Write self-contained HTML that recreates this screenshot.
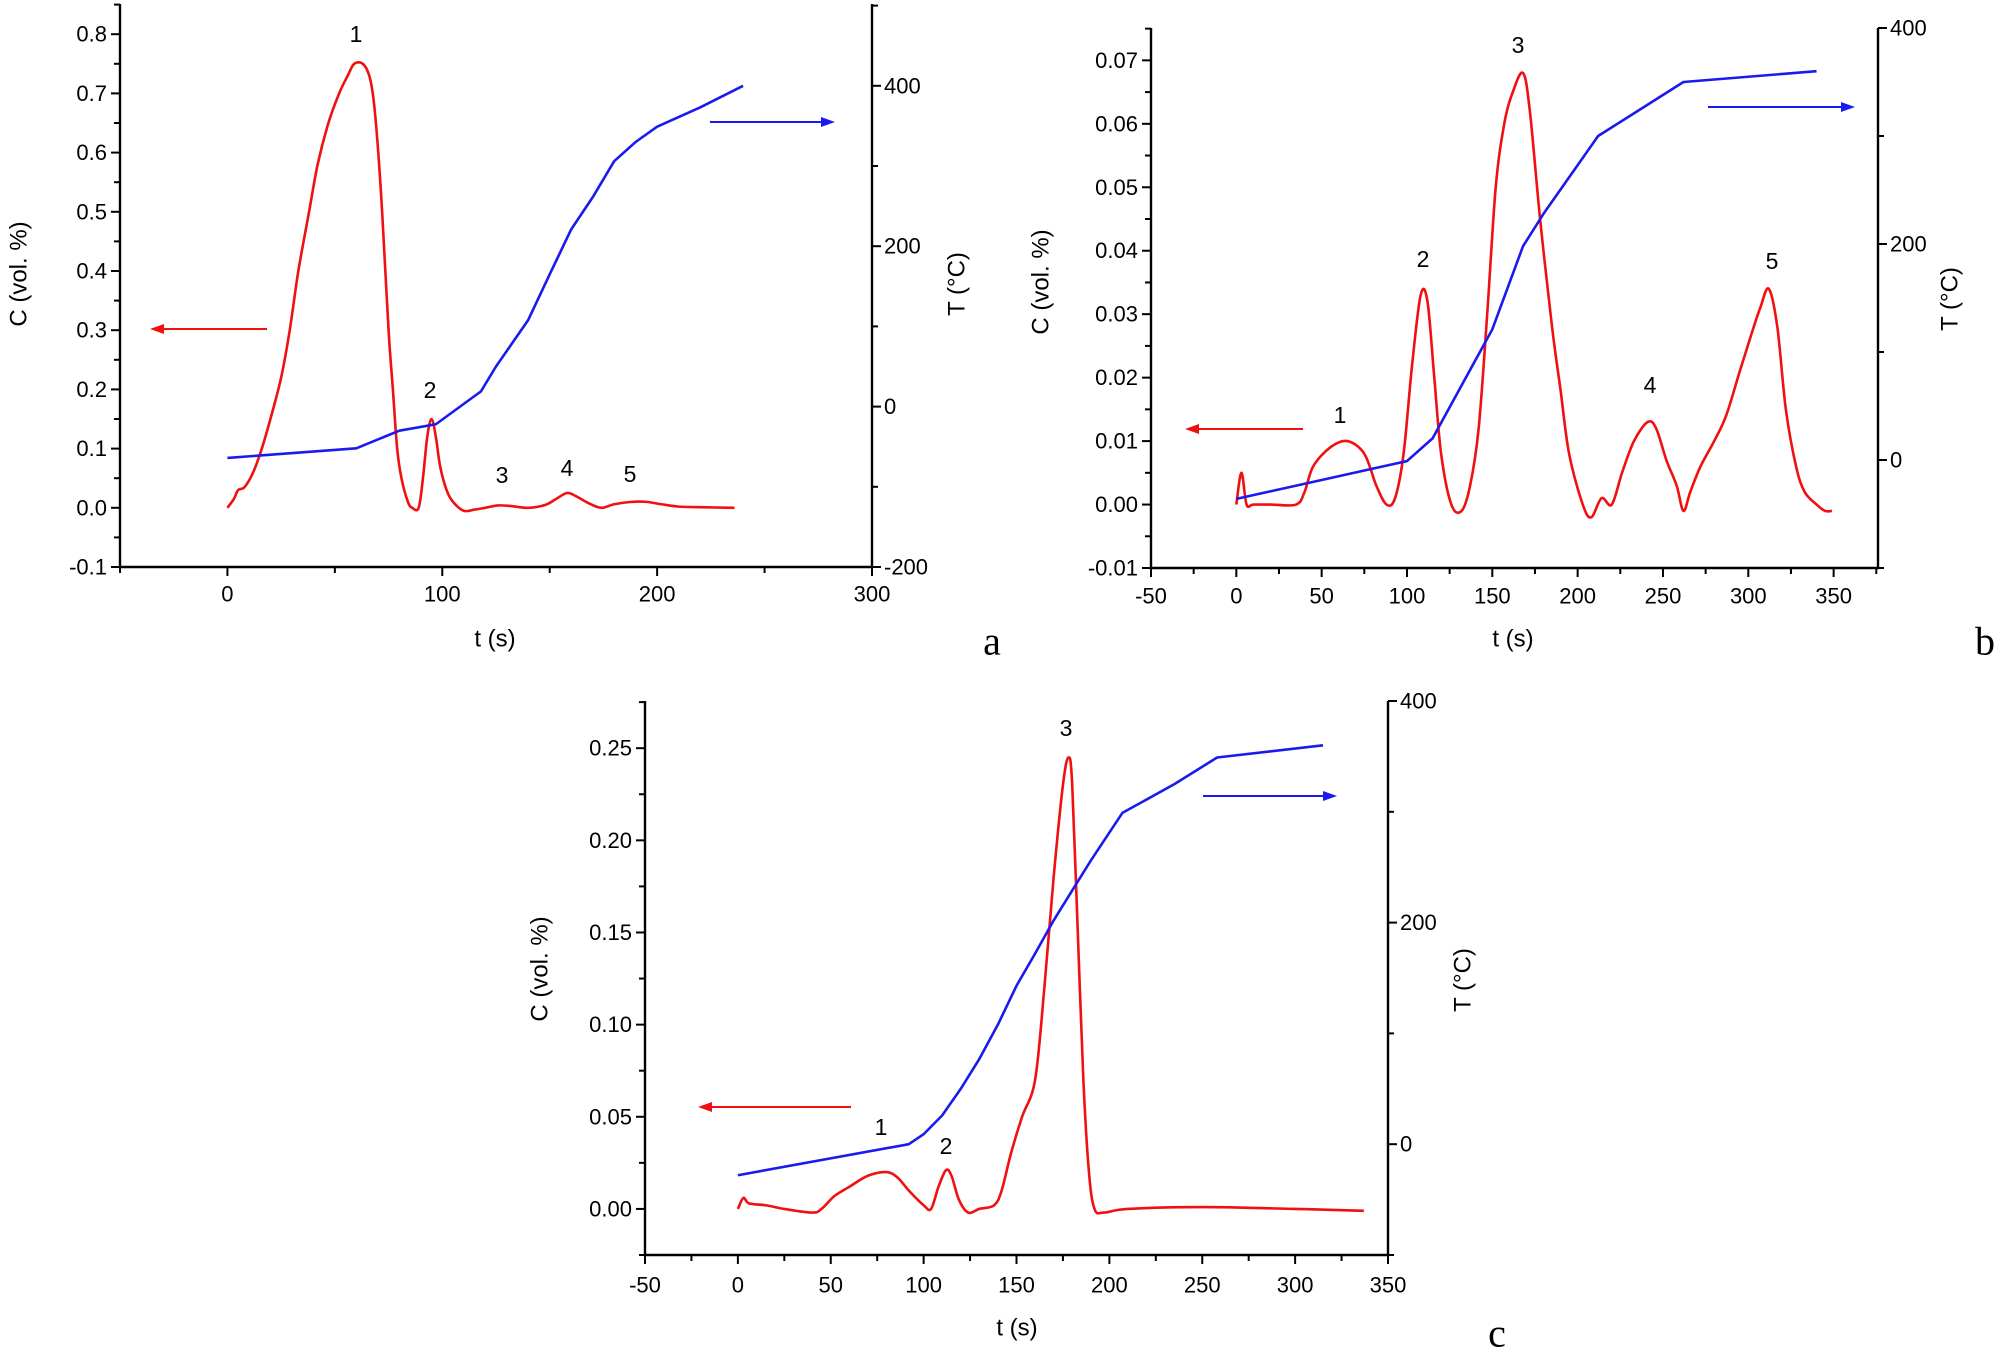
<!DOCTYPE html>
<html><head><meta charset="utf-8"><style>
body{margin:0;background:#fff}
svg{display:block}
text{font-family:"Liberation Sans",Arial,sans-serif;fill:#000}
</style></head><body>
<svg id="fig" width="2000" height="1349" viewBox="0 0 2000 1349" xmlns="http://www.w3.org/2000/svg"></svg>
<script>
// ---------- Panel a data ----------
const aConcT = [0,3,5,8,12,16,20,25,29,33,38,42,47,52,56,59,63,66,68,70,72,75,77,79,81,84,86,89,91,93,95,97,99,102,105,110,115,120,126,132,140,148,153,158,162,168,174,180,188,195,202,210,220,236];
const aConcC = [0,0.015,0.03,0.035,0.06,0.1,0.15,0.22,0.3,0.4,0.5,0.58,0.65,0.7,0.73,0.75,0.75,0.73,0.69,0.61,0.5,0.3,0.2,0.1,0.05,0.01,0,0,0.05,0.12,0.15,0.12,0.07,0.03,0.01,-0.005,-0.003,0,0.004,0.003,0,0.005,0.015,0.025,0.02,0.008,0,0.006,0.01,0.01,0.006,0.002,0.001,0];
const aTempT = [0,60,80,97,118,125,140,150,160,170,180,190,200,220,240];
const aTempV = [-64,-52,-30,-22,19,50,108,165,221,261,306,330,349,373,400];
const aXTicks = [0,100,200,300];
const aYTicks = [-0.1,0,0.1,0.2,0.3,0.4,0.5,0.6,0.7,0.8];
const aRTicks = [-200,0,200,400];
// ---------- Panel b data ----------
const bConcT = [0,3,6,10,20,35,40,45,55,65,75,82,88,93,98,103,108,112,116,120,126,132,137,142,147,152,157,162,168,172,178,185,190,195,203,208,214,220,226,233,241,246,252,258,262,266,272,280,287,295,302,307,312,317,322,328,333,340,345,349];
const bConcC = [0,0.005,0,0,0,0,0.002,0.006,0.009,0.01,0.008,0.003,0,0.001,0.008,0.022,0.033,0.032,0.02,0.008,0,-0.001,0.003,0.012,0.03,0.05,0.06,0.065,0.068,0.062,0.045,0.028,0.018,0.008,0,-0.002,0.001,0,0.005,0.01,0.013,0.012,0.007,0.003,-0.001,0.002,0.006,0.01,0.014,0.021,0.027,0.031,0.034,0.028,0.015,0.006,0.002,0,-0.001,-0.001];
const bTempT = [0,100,115,150,168,180,212,262,340];
const bTempV = [-36,-1,20,121,198,228,300,350,360];
const bXTicks = [-50,0,50,100,150,200,250,300,350];
const bYTicks = [-0.01,0,0.01,0.02,0.03,0.04,0.05,0.06,0.07];
const bRTicks = [0,200,400];
// ---------- Panel c data ----------
const cConcT = [0,3,6,15,25,40,45,52,60,70,80,86,92,100,104,108,112,115,119,124,130,138,142,147,153,160,165,170,175,178,180,183,186,189,192,197,210,250,300,337];
const cConcC = [0,0.006,0.003,0.002,0,-0.002,0,0.007,0.012,0.018,0.02,0.017,0.01,0.002,0,0.012,0.021,0.018,0.005,-0.002,0,0.002,0.01,0.03,0.05,0.07,0.12,0.18,0.23,0.245,0.23,0.15,0.07,0.02,0,-0.002,0,0.001,0,-0.001];
const cTempT = [0,92,100,110,120,130,140,150,160,170,180,190,207,235,258,315];
const cTempV = [-28,0,9,26,50,77,108,143,172,202,229,256,299,325,349,360];
const cXTicks = [-50,0,50,100,150,200,250,300,350];
const cYTicks = [0,0.05,0.1,0.15,0.2,0.25];
const cRTicks = [0,200,400];

const NS="http://www.w3.org/2000/svg";
const svg=document.getElementById('fig');
function mk(tag,attrs,parent){const e=document.createElementNS(NS,tag);for(const k in attrs)e.setAttribute(k,attrs[k]);(parent||svg).appendChild(e);return e;}
function txt(s,x,y,size,anchor,parent,rot,family){
  const t=mk('text',{x:x,y:y,'font-size':size,'text-anchor':anchor||'middle','dominant-baseline':'central'},parent);
  if(rot)t.setAttribute('transform','rotate('+rot+' '+x+' '+y+')');
  if(family)t.setAttribute('style','font-family:'+family);
  t.textContent=s;return t;
}
function smooth(pts){
  let d='M'+pts[0][0]+','+pts[0][1];
  for(let i=0;i<pts.length-1;i++){
    const p0=pts[Math.max(0,i-1)],p1=pts[i],p2=pts[i+1],p3=pts[Math.min(pts.length-1,i+2)];
    const c1x=p1[0]+(p2[0]-p0[0])/6,c1y=p1[1]+(p2[1]-p0[1])/6;
    const c2x=p2[0]-(p3[0]-p1[0])/6,c2y=p2[1]-(p3[1]-p1[1])/6;
    d+=`C${c1x},${c1y} ${c2x},${c2y} ${p2[0]},${p2[1]}`;
  }
  return d;
}
function arrow(x1,x2,y,color,g){
  mk('line',{x1:x1,y1:y,x2:x2+(x2>x1?-8:8),y2:y,stroke:color,'stroke-width':2},g);
  const d=x2>x1?-14:14;
  mk('polygon',{points:x2+','+y+' '+(x2+d)+','+(y-5)+' '+(x2+d)+','+(y+5),fill:color},g);
}
function panel(p){
  const g=mk('g',{});
  
  
  const X=v=>p.L+(v-p.xd[0])/(p.xd[1]-p.xd[0])*(p.R-p.L);
  const Y=v=>p.B-(v-p.yd[0])/(p.yd[1]-p.yd[0])*(p.B-p.T);
  const YR=v=>p.B-(v-p.rd[0])/(p.rd[1]-p.rd[0])*(p.B-p.T);
  const ax=mk('path',{d:`M${p.L},${p.T}V${p.B}H${p.R}V${p.T}`,fill:'none',stroke:'#000','stroke-width':2.4},g);
  
  
  for(let v=p.xd[0];v<=p.xd[1]+1e-9;v+=p.xm){
    const major=p.xt.some(t=>Math.abs(t-v)<1e-9);
    mk('line',{x1:X(v),y1:p.B,x2:X(v),y2:p.B+(major?9:6),stroke:'#000','stroke-width':2},g);
  }
  p.xt.forEach(v=>{const t=txt(String(v),X(v),p.xl,22,'middle',g);
    
    });
  for(let v=p.yd[0];v<=p.yd[1]+1e-9;v+=p.ym){
    const major=p.yt.some(t=>Math.abs(t-v)<1e-9);
    mk('line',{x1:p.L,y1:Y(v),x2:p.L-(major?9:6),y2:Y(v),stroke:'#000','stroke-width':2},g);
  }
  p.yt.forEach(v=>{const t=txt(v.toFixed(p.dec),p.L-13,Y(v),22,'end',g);
    
    });
  for(let v=p.rd[0];v<=p.rd[1]+1e-9;v+=100){
    const major=p.rt.some(t=>Math.abs(t-v)<1e-9);
    mk('line',{x1:p.R,y1:YR(v),x2:p.R+(major?9:6),y2:YR(v),stroke:'#000','stroke-width':2},g);
  }
  p.rt.forEach(v=>{const t=txt(String(v),p.R+12,YR(v),22,'start',g);
    
    });
  const cp=mk('path',{d:smooth(p.ct.map((t,i)=>[X(t),Y(p.cc[i])])),fill:'none',stroke:'#f01010','stroke-width':2.6,'stroke-linejoin':'round'},g);
  
  
  const tp=mk('polyline',{points:p.tt.map((t,i)=>X(t)+','+YR(p.tv[i])).join(' '),fill:'none',stroke:'#1a1aee','stroke-width':2.6,'stroke-linejoin':'round'},g);
  
  
  arrow(p.ra[0],p.ra[1],p.ra[2],'#f01010',g);
  arrow(p.ba[0],p.ba[1],p.ba[2],'#1a1aee',g);
  p.peaks.forEach((pk,i)=>{const t=txt(String(i+1),pk[0],pk[1],23,'middle',g);
    
    });
  let t=txt('C (vol. %)',p.ct_[0],p.ct_[1],24,'middle',g,-90);
  
  
  t=txt('T (°C)',p.tt_[0],p.tt_[1],24,'middle',g,-90);
  
  
  t=txt('t (s)',p.xt_[0],p.xt_[1],24,'middle',g);
  
  
  t=txt(p.id,p.lab[0],p.lab[1],40,'middle',g,0,'"Liberation Serif",serif');
  
  
}
panel({id:'a',L:120,R:872,T:4,B:567,xd:[-50,300],yd:[-0.1,0.851],rd:[-200,502],xm:50,ym:0.05,
  xt:aXTicks,yt:aYTicks,rt:aRTicks,dec:1,xl:594,ct:aConcT,cc:aConcC,tt:aTempT,tv:aTempV,
  ra:[267,150,329],ba:[710,835,122],peaks:[[356,34],[430,390],[502,475],[567,468],[630,474]],
  ct_:[19,274],tt_:[957,284],xt_:[495,639],lab:[992,641]});
panel({id:'b',L:1151,R:1878,T:28,B:568,xd:[-50,376],yd:[-0.01,0.0751],rd:[-100,400],xm:25,ym:0.005,
  xt:bXTicks,yt:bYTicks,rt:bRTicks,dec:2,xl:596,ct:bConcT,cc:bConcC,tt:bTempT,tv:bTempV,
  ra:[1303,1185,429],ba:[1708,1855,107],peaks:[[1340,415],[1423,259],[1518,45],[1650,385],[1772,261]],
  ct_:[1041,282],tt_:[1950,299],xt_:[1513,639],lab:[1985,641]});
panel({id:'c',L:645,R:1388,T:701,B:1255,xd:[-50,350],yd:[-0.025,0.2756],rd:[-100,400],xm:25,ym:0.025,
  xt:cXTicks,yt:cYTicks,rt:cRTicks,dec:2,xl:1285,ct:cConcT,cc:cConcC,tt:cTempT,tv:cTempV,
  ra:[851,698,1107],ba:[1203,1337,796],peaks:[[881,1127],[946,1146],[1066,728]],
  ct_:[540,969],tt_:[1463,980],xt_:[1017,1328],lab:[1497,1333]});
</script>
</body></html>
